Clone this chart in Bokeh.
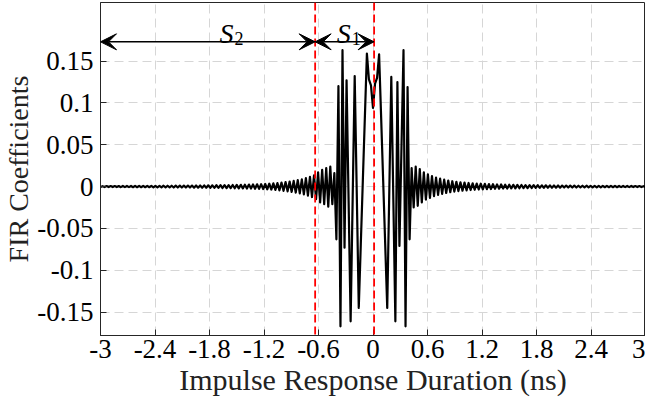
import numpy as np
from bokeh.plotting import figure
from bokeh.models import Range1d, FixedTicker, Span, Arrow, VeeHead, ColumnDataSource
from bokeh.core.properties import value
from bokeh.embed import file_html
from bokeh.resources import INLINE

# ---------------- data ----------------
X_TICKS = [-3, -2.4, -1.8, -1.2, -0.6, 0, 0.6, 1.2, 1.8, 2.4, 3]
X_TICK_LABELS = ["-3", "-2.4", "-1.8", "-1.2", "-0.6", "0", "0.6", "1.2", "1.8", "2.4", "3"]
Y_TICKS = [-0.15, -0.1, -0.05, 0, 0.05, 0.1, 0.15]
Y_TICK_LABELS = ["-0.15", "-0.1", "-0.05", "0", "0.05", "0.1", "0.15"]

N_HALF = 134          # taps on each side of the centre tap
DURATION_HALF = 3.0   # ns

# FIR coefficients, left tail (tap -134 ... -19)
left_tail = [
    -0.0005, 0.0005,
    -0.0006, 0.0006, -0.0006, 0.0006, -0.0006,
    0.0006, -0.0006, 0.0006, -0.0007, 0.0007,
    -0.0007, 0.0007, -0.0007, 0.0007, -0.0008,
    0.0008, -0.0008, 0.0008, -0.0008, 0.0008,
    -0.0008, 0.0008, -0.0008, 0.0009, -0.0009,
    0.0009, -0.0009, 0.0009, -0.0009, 0.0010,
    -0.0010, 0.0010, -0.0010, 0.0010, -0.0011,
    0.0011, -0.0011, 0.0011, -0.0011, 0.0011,
    -0.0012, 0.0012, -0.0012, 0.0012, -0.0013,
    0.0013, -0.0013, 0.0013, -0.0014, 0.0014,
    -0.0014, 0.0015, -0.0015, 0.0015, -0.0016,
    0.0016, -0.0016, 0.0017, -0.0017, 0.0018,
    -0.0018, 0.0018, -0.0019, 0.0019, -0.0020,
    0.0020, -0.0021, 0.0021, -0.0022, 0.0022,
    -0.0023, 0.0024, -0.0024, 0.0025, -0.0026,
    0.0027, -0.0028, 0.0029, -0.0030, 0.0031,
    -0.0032, 0.0034, -0.0036, 0.0038, -0.0040,
    0.0042, -0.0045, 0.0048, -0.0051, 0.0054,
    -0.0057, 0.0060, -0.0064, 0.0068, -0.0072,
    0.0077, -0.0082, 0.0087, -0.0093, 0.0100,
    -0.0108, 0.0115, -0.0125, 0.0135, -0.0150,
    0.0170, -0.0190, 0.0200, -0.0210, 0.0220,
    -0.0240, 0.0240, -0.0210, 0.0160,
]

# FIR coefficients, main lobe (tap -18 ... 18)
main_lobe = [
    -0.063, 0.120, -0.167, 0.163, -0.073, 0.127, -0.017, -0.161, -0.015, 0.132,
    -0.006, -0.145, -0.069, 0.007, 0.083, 0.159, 0.128, 0.121,
    0.094,
    0.123, 0.130, 0.158, 0.083, 0.007, -0.069, -0.145, -0.007,
    0.131, -0.015, -0.161, 0.125, -0.071, 0.046, 0.163, -0.167, 0.119, -0.063,
]

# FIR coefficients, right tail (tap 19 ... 134)
right_tail = [
    0.0220, -0.0250, 0.0240, -0.0230, 0.0210,
    -0.0190, 0.0170, -0.0155, 0.0145, -0.0135,
    0.0125, -0.0115, 0.0108, -0.0100, 0.0094,
    -0.0088, 0.0082, -0.0077, 0.0072, -0.0068,
    0.0064, -0.0060, 0.0057, -0.0054, 0.0051,
    -0.0049, 0.0047, -0.0045, 0.0043, -0.0041,
    0.0039, -0.0038, 0.0036, -0.0035, 0.0034,
    -0.0033, 0.0032, -0.0031, 0.0030, -0.0029,
    0.0028, -0.0027, 0.0026, -0.0025, 0.0025,
    -0.0024, 0.0023, -0.0023, 0.0022, -0.0022,
    0.0021, -0.0021, 0.0020, -0.0020, 0.0019,
    -0.0019, 0.0018, -0.0018, 0.0018, -0.0017,
    0.0017, -0.0016, 0.0016, -0.0016, 0.0015,
    -0.0015, 0.0015, -0.0014, 0.0014, -0.0014,
    0.0013, -0.0013, 0.0013, -0.0013, 0.0012,
    -0.0012, 0.0012, -0.0012, 0.0011, -0.0011,
    0.0011, -0.0011, 0.0010, -0.0010, 0.0010,
    -0.0010, 0.0010, -0.0009, 0.0009, -0.0009,
    0.0009, -0.0009, 0.0009, -0.0009, 0.0008,
    -0.0008, 0.0008, -0.0008, 0.0008, -0.0008,
    0.0008, -0.0008, 0.0007, -0.0007, 0.0007,
    -0.0007, 0.0007, -0.0007, 0.0007, -0.0006,
    0.0006, -0.0006, 0.0006, -0.0006, 0.0005,
    -0.0005,
]

S1_START, S1_END = -0.637, 0.012   # ns, segment boundaries (red dashed lines)

# ---------------- build ----------------
coeffs = np.array(left_tail + main_lobe + right_tail)
taps = np.arange(-N_HALF, N_HALF + 1)
t = taps * (DURATION_HALF / N_HALF)
src = ColumnDataSource(dict(t=t, h=coeffs))

FONT = "Liberation Serif"
DARK = "#262626"

p = figure(width=645, height=398, output_backend="svg", toolbar_location=None,
           x_range=Range1d(-3, 3), y_range=Range1d(-0.178, 0.22),
           min_border_left=80, min_border_right=0, min_border_top=2, min_border_bottom=0)
p.background_fill_color = "white"
p.border_fill_color = "white"
p.outline_line_color = DARK
p.outline_line_width = 1

for ax in (p.xaxis[0], p.yaxis[0]):
    ax.major_tick_in = 6
    ax.major_tick_out = 0
    ax.minor_tick_line_color = None
    ax.major_tick_line_color = DARK
    ax.axis_line_color = DARK
    ax.major_label_text_font = FONT
    ax.major_label_text_font_size = "27px"
    ax.major_label_text_color = "black"
    ax.axis_label_text_font = FONT
    ax.axis_label_text_font_style = "normal"
    ax.axis_label_text_color = "#222222"

p.xaxis.axis_label_text_font_size = "30px"
p.yaxis.axis_label_text_font_size = "28px"
p.xaxis.ticker = FixedTicker(ticks=X_TICKS)
p.xaxis.major_label_overrides = dict(zip(X_TICKS, X_TICK_LABELS))
p.yaxis.ticker = FixedTicker(ticks=Y_TICKS)
p.yaxis.major_label_overrides = dict(zip(Y_TICKS, Y_TICK_LABELS))
p.xaxis.axis_label = "Impulse Response Duration (ns)"
p.yaxis.axis_label = "FIR Coefficients"
p.xaxis.major_label_standoff = 4
p.yaxis.major_label_standoff = 7
p.xaxis.axis_label_standoff = 2
p.yaxis.axis_label_standoff = 0

p.xgrid.ticker = FixedTicker(ticks=X_TICKS)
p.ygrid.ticker = FixedTicker(ticks=Y_TICKS)
for g in (p.xgrid[0], p.ygrid[0]):
    g.grid_line_color = "#d6d6d6"
    g.grid_line_dash = "9 5"
    g.grid_line_width = 1

p.line("t", "h", source=src, line_color="black", line_width=2.2, line_join="round")

for xv in (S1_START, S1_END):
    p.add_layout(Span(location=xv, dimension="height", line_color="#ff0000",
                      line_width=1.8, line_dash="8 4"))

ARROW_Y = 0.173
for xs, xe in ((-3, S1_START), (S1_START, S1_END)):
    p.add_layout(Arrow(x_start=xs, y_start=ARROW_Y, x_end=xe, y_end=ARROW_Y,
                       line_color="black", line_width=1.5,
                       start=VeeHead(size=16, fill_color="black", line_color="black", line_width=1),
                       end=VeeHead(size=16, fill_color="black", line_color="black", line_width=1)))

lab_src = ColumnDataSource(dict(x=[-1.535, -0.245], y=[0.183, 0.183], s=["S", "S"],
                                sub=["2", "1"], ys=[0.177, 0.177]))
p.text("x", "y", text="s", source=lab_src, text_font=value(FONT), text_font_style="italic",
       text_font_size="28px", text_align="right", text_baseline="alphabetic", text_color="black")
p.text("x", "ys", text="sub", source=lab_src, text_font=value(FONT),
       text_font_size="18px", text_align="left", text_baseline="alphabetic", text_color="black",
       x_offset=1)

open("out.html", "w").write(file_html(p, INLINE))
